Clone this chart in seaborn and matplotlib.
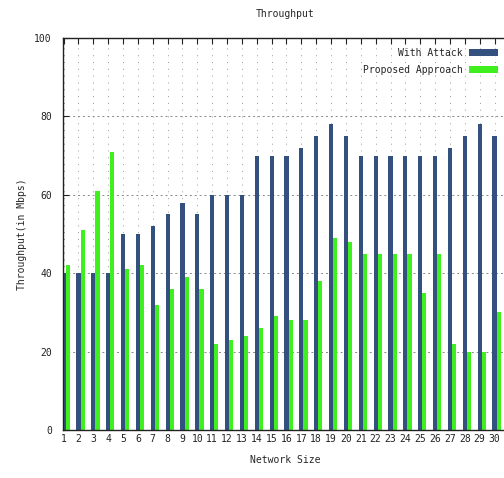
import numpy as np
import pandas as pd
import seaborn as sns
import matplotlib
matplotlib.use("Agg")
import matplotlib.pyplot as plt

# data
network_size = [str(i) for i in range(1, 31)]
with_attack = [40, 40, 40, 40, 50, 50, 52, 55, 58, 55,
               60, 60, 60, 70, 70, 70, 72, 75, 78, 75,
               70, 70, 70, 70, 70, 70, 72, 75, 78, 75]
proposed = [42, 51, 61, 71, 41, 42, 32, 36, 39, 36,
            22, 23, 24, 26, 29, 28, 28, 38, 49, 48,
            45, 45, 45, 45, 35, 45, 22, 20, 20, 30]
series_names = ["With Attack", "Proposed Approach"]
colors = ["#34507e", "#3ff01e"]

df = pd.DataFrame({
    "size": network_size * 2,
    "value": with_attack + proposed,
    "series": [series_names[0]] * 30 + [series_names[1]] * 30,
})

sns.set_style("white")
plt.rcParams["font.family"] = ["DejaVu Sans Mono", "DejaVu Sans"]

fig = plt.figure(figsize=(5.04, 4.78), dpi=100)
ax = fig.add_axes([63 / 504, 1 - 430 / 478, (507 - 63) / 504, (430 - 38) / 478])

sns.barplot(data=df, x="size", y="value", hue="series", order=network_size,
            hue_order=series_names, palette=colors, width=0.56,
            saturation=1, linewidth=0, ax=ax, zorder=2)

ax.set_xlim(-0.18, 29.70)
ax.set_ylim(0, 100)
pos = np.arange(30) - 0.14
ax.set_xticks(pos)
ax.set_xticklabels(network_size, fontsize=7)
ax.set_yticks([0, 20, 40, 60, 80, 100])
ax.set_yticklabels(["0", "20", "40", "60", "80", "100"], fontsize=7)

# gnuplot style dotted grid
for xp in pos:
    ax.axvline(xp, color="#999999", lw=0.7, ls=(0, (1, 6)), zorder=0)
for yp in [20, 40, 60, 80]:
    ax.axhline(yp, color="#888888", lw=0.7, ls=(0, (2, 3)), zorder=0)

ax.tick_params(axis="x", direction="in", length=4, width=0.8, top=True,
               bottom=True, pad=3, colors="#222222")
ax.tick_params(axis="y", direction="in", length=4, width=0.8, left=True,
               pad=8, colors="#222222")
for side in ["left", "bottom", "top", "right"]:
    ax.spines[side].set_color("#222222")
    ax.spines[side].set_linewidth(1.0)

ax.set_xlabel("Network Size", fontsize=7, labelpad=8)
ax.set_ylabel("Throughput(in Mbps)", fontsize=7, labelpad=5)
fig.text(285 / 504, 1 - 14 / 478, "Throughput", fontsize=7, ha="center", va="center")

leg = ax.legend(loc="upper right", bbox_to_anchor=(0.993, 0.99), frameon=False,
                markerfirst=False, fontsize=7, handlelength=3.0, handleheight=0.8,
                labelspacing=0.75, borderaxespad=0.2, handletextpad=0.6)

fig.savefig("out.png", dpi=100)
